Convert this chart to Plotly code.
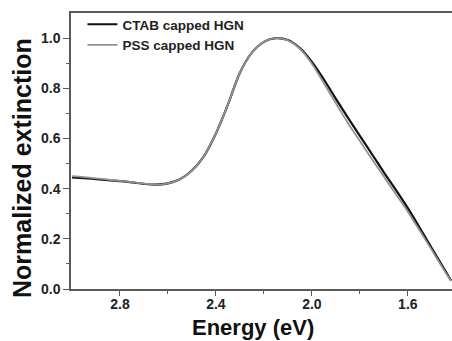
import plotly.graph_objects as go

energy = [3.00, 2.95, 2.90, 2.85, 2.80, 2.75, 2.70, 2.65, 2.60, 2.55, 2.50, 2.45,
          2.40, 2.35, 2.30, 2.25, 2.20, 2.15, 2.10, 2.05, 2.00, 1.95, 1.90, 1.85,
          1.80, 1.75, 1.70, 1.65, 1.60, 1.55, 1.50, 1.45, 1.42]

ctab = [0.445, 0.442, 0.438, 0.434, 0.430, 0.425, 0.419, 0.416, 0.421, 0.437, 0.472, 0.530,
        0.620, 0.735, 0.862, 0.942, 0.985, 1.000, 0.992, 0.960, 0.905, 0.835, 0.758, 0.683,
        0.610, 0.538, 0.465, 0.395, 0.322, 0.243, 0.162, 0.082, 0.034]

pss = [0.450, 0.446, 0.441, 0.436, 0.431, 0.426, 0.420, 0.416, 0.421, 0.437, 0.472, 0.530,
       0.620, 0.735, 0.862, 0.942, 0.985, 1.000, 0.991, 0.958, 0.898, 0.820, 0.740, 0.662,
       0.590, 0.518, 0.448, 0.378, 0.308, 0.232, 0.155, 0.077, 0.032]

series_names = ["CTAB capped HGN", "PSS capped HGN"]
y_ticks = [0.0, 0.2, 0.4, 0.6, 0.8, 1.0]
x_ticks = [2.8, 2.4, 2.0, 1.6]

FONT = "Arial, 'Liberation Sans', sans-serif"

fig = go.Figure()
fig.add_trace(go.Scatter(x=energy, y=ctab, mode="lines", name=series_names[0],
                         line=dict(color="#111111", width=2.2, shape="spline", smoothing=1.0)))
fig.add_trace(go.Scatter(x=energy, y=pss, mode="lines", name=series_names[1],
                         line=dict(color="#929292", width=1.8, shape="spline", smoothing=1.0)))

axis_color = "#5a5a5a"
fig.update_layout(
    width=452, height=341,
    margin=dict(l=71, r=0, t=13, b=52),
    paper_bgcolor="white", plot_bgcolor="white",
    font=dict(family=FONT, color="#222222"),
    showlegend=True,
    legend=dict(x=0.03, y=1.0145, xanchor="left", yanchor="top",
                bgcolor="rgba(0,0,0,0)", borderwidth=0,
                font=dict(family=FONT, size=13.5, color="#222222", weight="bold"),
                tracegroupgap=0, itemwidth=30),
    xaxis=dict(range=[3.004, 1.416], tickvals=x_ticks, ticktext=[f"{v:.1f}" for v in x_ticks],
               ticks="outside", ticklen=5, tickwidth=1.2, tickcolor=axis_color,
               showline=True, linecolor=axis_color, linewidth=1.5, mirror=True,
               showgrid=False, zeroline=False, ticklabelstandoff=-4,
               tickfont=dict(family=FONT, size=14, color="#222222", weight="bold"),
               minor=dict(tickvals=[2.6, 2.2, 1.8], ticks="outside", ticklen=3,
                          tickcolor=axis_color, showgrid=False)),
    yaxis=dict(range=[0, 1.1], tickvals=y_ticks, ticktext=[f"{v:.1f}" for v in y_ticks],
               ticks="outside", ticklen=6, tickwidth=1.2, tickcolor=axis_color,
               showline=True, linecolor=axis_color, linewidth=1.5,
               showgrid=False, zeroline=False,
               tickfont=dict(family=FONT, size=14, color="#222222", weight="bold"),
               minor=dict(tickvals=[0.1, 0.3, 0.5, 0.7, 0.9], ticks="outside", ticklen=3,
                          tickcolor=axis_color, showgrid=False)),
    annotations=[
        dict(text="Energy (eV)", xref="paper", yref="paper",
             x=(253 - 71) / 381, y=-(327 - 289) / 276, xanchor="center", yanchor="middle",
             showarrow=False, font=dict(family=FONT, size=22, color="#111111", weight="bold")),
        dict(text="Normalized extinction", xref="paper", yref="paper",
             x=-(71 - 22) / 381, y=(289 - 168) / 276, xanchor="center", yanchor="middle",
             textangle=-90, showarrow=False,
             font=dict(family=FONT, size=25, color="#111111", weight="bold")),
    ],
)

fig.write_html("out.html",
               config={"displayModeBar": False},
               post_script="document.body.style.margin='0';document.body.style.overflow='hidden';")
